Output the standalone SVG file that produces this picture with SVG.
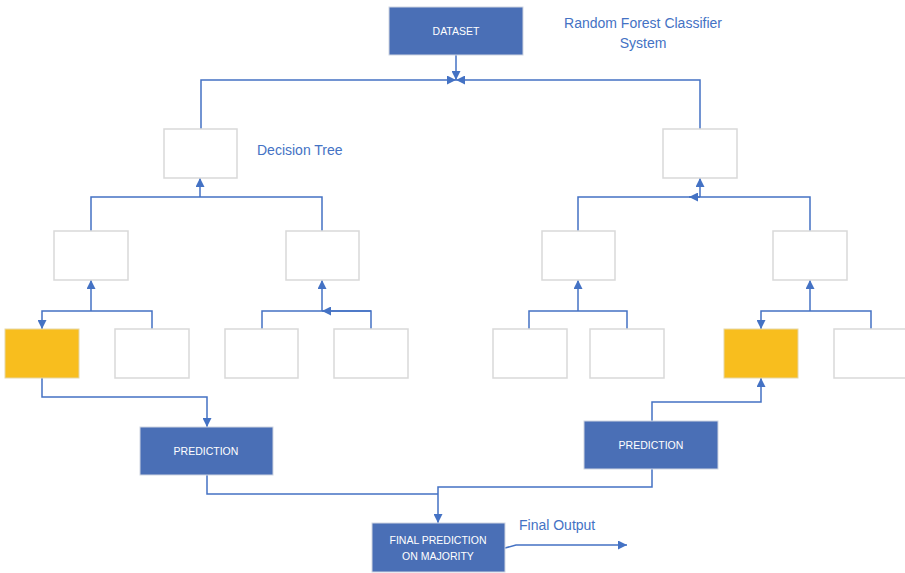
<svg xmlns="http://www.w3.org/2000/svg" width="905" height="573" viewBox="0 0 905 573">
  <style>
    .blue { fill: #4A6FB6; stroke: #D0D6E2; stroke-width: 1; }
    .leaf { fill: #FFFFFF; stroke: #D9D9D9; stroke-width: 1.5; }
    .hit { fill: #F8BE1E; stroke: #E6D7A8; stroke-width: 1; }
    .wire { fill: none; stroke: #4472C4; stroke-width: 1.5; }
    .btxt { font-family: "Liberation Sans", Arial, sans-serif; font-size: 10.5px; fill: #FFFFFF; text-anchor: middle; }
    .lbl { font-family: "Liberation Sans", Arial, sans-serif; font-size: 14px; fill: #4472C4; }
  </style>
  <defs>
    <marker id="arrow" viewBox="0 0 10 10" refX="10" refY="5" markerWidth="6" markerHeight="6" markerUnits="userSpaceOnUse" orient="auto">
      <path d="M0,0 L10,5 L0,10 z" fill="#4472C4"/>
    </marker>
    <marker id="arrowL" viewBox="0 0 10 10" refX="10" refY="5" markerWidth="9" markerHeight="9" markerUnits="userSpaceOnUse" orient="auto">
      <path d="M0,0 L10,5 L0,10 z" fill="#4472C4"/>
    </marker>
  </defs>

  <!-- connectors -->
  <g id="connectors" class="wire">
    <!-- dataset feeds both trees -->
    <path d="M456,55 V80" marker-end="url(#arrowL)"/>
    <path d="M201,129 V80 H456" marker-end="url(#arrowL)"/>
    <path d="M700,129 V80 H456" marker-end="url(#arrowL)"/>

    <!-- left tree -->
    <path d="M91,231 V197 H322 V231"/>
    <path d="M200,197 V178" marker-end="url(#arrowL)"/>
    <path d="M152,329 V311 H42 V329" marker-end="url(#arrowL)"/>
    <path d="M91,311 V280" marker-end="url(#arrowL)"/>
    <path d="M262,329 V311 H371 V329"/>
    <path d="M371,311 H322" marker-end="url(#arrowL)"/>
    <path d="M322,311 V280" marker-end="url(#arrowL)"/>

    <!-- right tree -->
    <path d="M578,231 V197 H810 V231"/>
    <path d="M700,197 H689" marker-end="url(#arrowL)"/>
    <path d="M700,197 V178" marker-end="url(#arrowL)"/>
    <path d="M529,329 V311 H627 V329"/>
    <path d="M578,311 V280" marker-end="url(#arrowL)"/>
    <path d="M871,329 V311 H761 V329" marker-end="url(#arrowL)"/>
    <path d="M810,311 V280" marker-end="url(#arrowL)"/>

    <!-- predictions -->
    <path d="M42,378 V397 H207 V427" marker-end="url(#arrowL)"/>
    <path d="M652,421 V402 H761 V378" marker-end="url(#arrowL)"/>

    <!-- majority vote -->
    <path d="M207,475 V494 H438"/>
    <path d="M652,469 V487 H438 V523" marker-end="url(#arrowL)"/>
    <path d="M505,548 L516,545 H627" marker-end="url(#arrowL)"/>
  </g>

  <!-- dataset -->
  <g id="dataset">
    <rect class="blue" x="389" y="7" width="134" height="48"/>
    <text class="btxt" x="456" y="35">DATASET</text>
  </g>

  <!-- titles -->
  <g id="title">
    <text class="lbl" x="643" y="28" text-anchor="middle">Random Forest Classifier</text>
    <text class="lbl" x="643" y="48" text-anchor="middle">System</text>
  </g>
  <text class="lbl" x="257" y="155">Decision Tree</text>

  <!-- left decision tree -->
  <g id="tree1-root"><rect class="leaf" x="164" y="129" width="73" height="49"/></g>
  <g id="tree1-a"><rect class="leaf" x="54" y="231" width="74" height="49"/></g>
  <g id="tree1-b"><rect class="leaf" x="286" y="231" width="73" height="49"/></g>
  <g id="tree1-a1"><rect class="hit" x="5" y="329" width="74" height="49"/></g>
  <g id="tree1-a2"><rect class="leaf" x="115" y="329" width="74" height="49"/></g>
  <g id="tree1-b1"><rect class="leaf" x="225" y="329" width="73" height="49"/></g>
  <g id="tree1-b2"><rect class="leaf" x="334" y="329" width="74" height="49"/></g>

  <!-- right decision tree -->
  <g id="tree2-root"><rect class="leaf" x="663" y="129" width="74" height="49"/></g>
  <g id="tree2-a"><rect class="leaf" x="542" y="231" width="73" height="49"/></g>
  <g id="tree2-b"><rect class="leaf" x="773" y="231" width="74" height="49"/></g>
  <g id="tree2-a1"><rect class="leaf" x="493" y="329" width="74" height="49"/></g>
  <g id="tree2-a2"><rect class="leaf" x="590" y="329" width="74" height="49"/></g>
  <g id="tree2-b1"><rect class="hit" x="724" y="329" width="74" height="49"/></g>
  <g id="tree2-b2"><rect class="leaf" x="834" y="329" width="74" height="49"/></g>

  <!-- predictions -->
  <g id="prediction1">
    <rect class="blue" x="140" y="427" width="133" height="48"/>
    <text class="btxt" x="206" y="455">PREDICTION</text>
  </g>
  <g id="prediction2">
    <rect class="blue" x="584" y="421" width="134" height="48"/>
    <text class="btxt" x="651" y="449">PREDICTION</text>
  </g>

  <!-- final -->
  <g id="final">
    <rect class="blue" x="372" y="523" width="133" height="49"/>
    <text class="btxt" x="438" y="544">FINAL PREDICTION</text>
    <text class="btxt" x="438" y="560">ON MAJORITY</text>
  </g>
  <text class="lbl" x="519" y="530">Final Output</text>
</svg>
